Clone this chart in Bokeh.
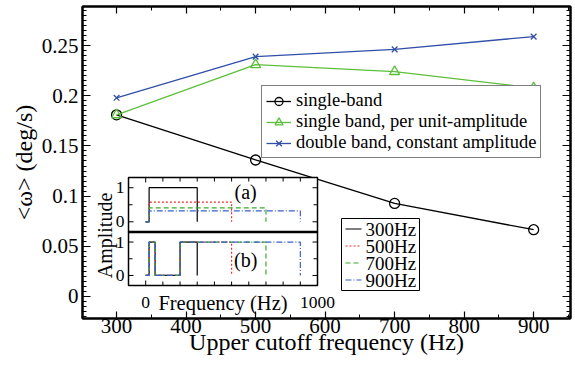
import math
from bokeh.plotting import figure
from bokeh.models import (Range1d, LinearAxis, SingleIntervalTicker, Legend, LegendItem,
                          CustomJSTickFormatter)
from bokeh.embed import file_html
from bokeh.resources import INLINE
from bokeh.core.properties import value

FONT = "Liberation Serif"

# ---- main chart data ----
cutoff = [300, 500, 700, 900]
single_band = [0.181, 0.136, 0.0927, 0.0665]
single_unit_amp = [0.181, 0.231, 0.2241, 0.2078]
double_band = [0.198, 0.239, 0.2463, 0.259]
series_labels = ["single-band", "single band, per unit-amplitude",
                 "double band, constant amplitude"]

# ---- inset data ----
inset_cutoffs = [300, 500, 700, 900]
inset_labels = ["300Hz", "500Hz", "700Hz", "900Hz"]
inset_amp_a = [1.0, 0.58, 0.41, 0.32]
band_start = 20
band1_end = 55
band2_start = 200
freq_ticks = [0, 1000]
freq_tick_labels = ["0", "1000"]
freq_minor = [100, 200, 300, 400, 500, 600, 700, 800, 900]
amp_ticks = [0, 1]
amp_tick_labels = ["0", "1"]
amp_minor = [0.5]
freq_src = (-100, 1000)
amp_src = (-0.3, 1.3)

GREEN = "#5cbf3a"
BLUE = "#2f4fa8"

# main layout (pixels)
W, H = 575, 369
FL, FR, FT, FB = 82, 570, 6, 318
X_RANGE = (251, 953)
Y_RANGE = (-0.022, 0.289)

p = figure(width=W, height=H, x_range=Range1d(*X_RANGE), y_range=Range1d(*Y_RANGE),
           output_backend="svg", toolbar_location=None,
           min_border_left=FL, min_border_right=W - FR, min_border_top=FT, min_border_bottom=H - FB)
p.xgrid.visible = False
p.ygrid.visible = False
p.outline_line_color = "black"
p.outline_line_width = 2

xt = SingleIntervalTicker(interval=100, num_minor_ticks=2)
yt = SingleIntervalTicker(interval=0.05, num_minor_ticks=10)
yfmt = CustomJSTickFormatter(code="return String(Math.round(tick*1000)/1000);")


def style_axis(ax, labels=True, is_x=True):
    ax.axis_line_width = 2
    ax.axis_line_color = "black"
    ax.major_tick_line_color = "black"
    ax.minor_tick_line_color = "black"
    ax.major_tick_line_width = 1.2
    ax.minor_tick_line_width = 1.0
    ax.major_tick_out = 0
    ax.minor_tick_out = 0
    ax.major_tick_in = 7 if is_x else 8
    ax.minor_tick_in = 4
    if labels:
        ax.major_label_text_font = FONT
        ax.major_label_text_font_size = "21px"
        ax.major_label_text_color = "black"
        ax.axis_label_text_font = FONT
        ax.axis_label_text_font_size = "24px"
        ax.axis_label_text_font_style = "normal"
        ax.axis_label_text_color = "black"
    else:
        ax.major_label_text_font_size = "1px"
        ax.major_label_text_color = None
        ax.major_label_standoff = 0


xa = p.xaxis[0]
xa.ticker = xt
xa.axis_label = "Upper cutoff frequency (Hz)"
style_axis(xa, True, True)
xa.major_label_standoff = 0
xa.axis_label_standoff = -7

ya = p.yaxis[0]
ya.ticker = yt
ya.formatter = yfmt
ya.axis_label = "<ω> (deg/s)"
style_axis(ya, True, False)
ya.major_label_standoff = 4
ya.axis_label_standoff = 2

top_ax = LinearAxis(ticker=xt)
style_axis(top_ax, False, True)
p.add_layout(top_ax, "above")
right_ax = LinearAxis(ticker=yt)
style_axis(right_ax, False, False)
p.add_layout(right_ax, "right")

l1 = p.line(cutoff, single_band, line_color="black", line_width=1.3)
m1 = p.scatter(cutoff, single_band, marker="circle", size=10, fill_color=None,
               line_color="black", line_width=1.3)
l2 = p.line(cutoff, single_unit_amp, line_color=GREEN, line_width=1.3)
m2 = p.scatter(cutoff, single_unit_amp, marker="triangle", size=10, fill_color=None,
               line_color=GREEN, line_width=1.3)
l3 = p.line(cutoff, double_band, line_color=BLUE, line_width=1.3)
m3 = p.scatter(cutoff, double_band, marker="x", size=8, line_color=BLUE, line_width=1.3)

leg = Legend(items=[LegendItem(label=series_labels[0], renderers=[l1, m1]),
                    LegendItem(label=series_labels[1], renderers=[l2, m2]),
                    LegendItem(label=series_labels[2], renderers=[l3, m3])],
             location=(261 - FL, FB - 158))
leg.label_text_font = FONT
leg.label_text_font_size = "18.5px"
leg.label_text_color = "black"
leg.border_line_color = "black"
leg.border_line_width = 1
leg.background_fill_color = "white"
leg.background_fill_alpha = 1
leg.padding = 4
leg.spacing = 0
leg.margin = 0
leg.label_height = 20
leg.glyph_height = 20
leg.glyph_width = 25
leg.label_standoff = 5
p.add_layout(leg)

# ================= inset (sub-coordinates inside the main frame) =================
def px_to_x(px):
    return X_RANGE[0] + (px - FL) / (FR - FL) * (X_RANGE[1] - X_RANGE[0])


def px_to_y(py):
    return Y_RANGE[1] - (py - FT) / (FB - FT) * (Y_RANGE[1] - Y_RANGE[0])


IL, IR, IT, IM, IB = 128, 317, 177, 231.5, 285
x_target = Range1d(px_to_x(IL), px_to_x(IR))
sub_a = p.subplot(x_source=Range1d(*freq_src), y_source=Range1d(*amp_src),
                  x_target=x_target, y_target=Range1d(px_to_y(IM), px_to_y(IT)))
sub_b = p.subplot(x_source=Range1d(*freq_src), y_source=Range1d(*amp_src),
                  x_target=x_target, y_target=Range1d(px_to_y(IB), px_to_y(IM)))

for sub in (sub_a, sub_b):
    sub.quad(left=[freq_src[0]], right=[freq_src[1]], bottom=[amp_src[0]], top=[amp_src[1]],
             fill_color="white", line_color="black", line_width=1.5)

inset_colors = ["black", "#ee2a2a", "#3aaa2a", "#3a5fcc"]
inset_dashes = ["solid", "2 2", "5 3", "6 2 1 2"]
for fc, amp, col, dash in zip(inset_cutoffs, inset_amp_a, inset_colors, inset_dashes):
    sub_a.line([0, band_start, band_start, fc, fc], [0, 0, amp, amp, 0],
               line_color=col, line_dash=dash, line_width=1.2)
    sub_b.line([0, band_start, band_start, band1_end, band1_end, band2_start, band2_start, fc, fc],
               [0, 0, 1, 1, 0, 0, 1, 1, 0],
               line_color=col, line_dash=dash, line_width=1.2)

# divider between panels
sub_a.segment(x0=[freq_src[0]], y0=[amp_src[0]], x1=[freq_src[1]], y1=[amp_src[0]],
              line_color="black", line_width=2.5)

# inset ticks (drawn inward)
all_f = freq_ticks + freq_minor
flen = [5] * len(freq_ticks) + [4] * len(freq_minor)
sub_a.ray(x=all_f, y=[amp_src[1]] * len(all_f), length=flen, angle=-math.pi / 2,
          length_units="screen", line_color="black", line_width=1)
sub_b.ray(x=all_f, y=[amp_src[0]] * len(all_f), length=flen, angle=math.pi / 2,
          length_units="screen", line_color="black", line_width=1)
all_a = amp_ticks + amp_minor
alen = [5] * len(amp_ticks) + [4] * len(amp_minor)
for sub in (sub_a, sub_b):
    sub.ray(x=[freq_src[0]] * len(all_a), y=all_a, length=alen, angle=0,
            length_units="screen", line_color="black", line_width=1)
    sub.ray(x=[freq_src[1]] * len(all_a), y=all_a, length=alen, angle=math.pi,
            length_units="screen", line_color="black", line_width=1)
    sub.text(x=[freq_src[0]] * len(amp_ticks), y=amp_ticks, text=amp_tick_labels,
             text_font=value(FONT), text_font_size="17.5px", text_color="black",
             text_align="right", text_baseline="middle", x_offset=-4)

sub_b.text(x=freq_ticks, y=[amp_src[0]] * len(freq_ticks), text=freq_tick_labels,
           text_font=value(FONT), text_font_size="17.5px", text_color="black",
           text_align="center", text_baseline="alphabetic", y_offset=17)
sub_b.text(x=[(freq_src[0] + freq_src[1]) / 2], y=[amp_src[0]], text=["Frequency (Hz)"],
           text_font=value(FONT), text_font_size="20.5px", text_color="black",
           text_align="center", text_baseline="alphabetic", y_offset=17)
# y label of the inset, centred on its box
p.text(x=[px_to_x(104)], y=[px_to_y(235)], text=["Amplitude"], angle=math.pi / 2,
       text_font=value(FONT), text_font_size="20px", text_color="black",
       text_align="center", text_baseline="middle")

sub_a.text(x=[582], y=[0.86], text=["(a)"], text_font=value(FONT), text_font_size="20px",
           text_align="center", text_baseline="middle", text_color="black")
sub_b.text(x=[582], y=[0.45], text=["(b)"], text_font=value(FONT), text_font_size="20px",
           text_align="center", text_baseline="middle", text_color="black")

# inset key (box, sample lines and labels), one row per cutoff
KL, KR, KT, KB = 341, 419, 218, 290
KPAD = 2
row_h = (KB - KT - 2 * KPAD) / len(inset_labels)
row_y = [px_to_y(KT + KPAD + row_h * (i + 0.5)) for i in range(len(inset_labels))]
p.quad(left=[px_to_x(KL)], right=[px_to_x(KR)], top=[px_to_y(KT)], bottom=[px_to_y(KB)],
       fill_color="white", line_color="black", line_width=1)
for yk, col, dash in zip(row_y, inset_colors, inset_dashes):
    p.segment(x0=[px_to_x(KL + 4)], y0=[yk], x1=[px_to_x(KL + 20)], y1=[yk],
              line_color=col, line_dash=dash, line_width=1.2)
p.text(x=[px_to_x(KL + 24)] * len(inset_labels), y=row_y, text=inset_labels,
       text_font=value(FONT), text_font_size="19px", text_color="black",
       text_align="left", text_baseline="middle")

open("out.html", "w").write(file_html(p, INLINE))
